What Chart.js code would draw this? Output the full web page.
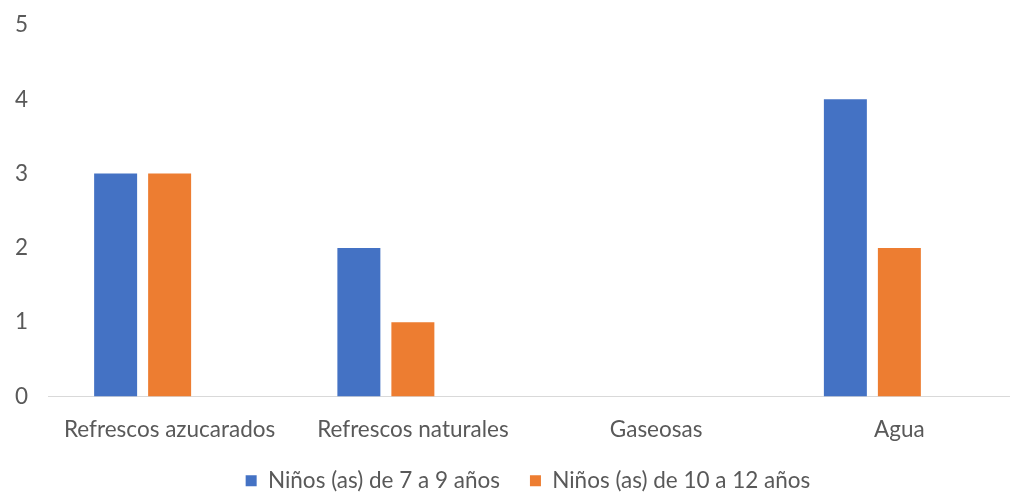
<!DOCTYPE html>
<html>
<head>
<meta charset="utf-8">
<script src="https://cdn.jsdelivr.net/npm/chart.js@4/dist/chart.umd.min.js"></script>
<style>
  html, body { margin: 0; padding: 0; background: #fff; overflow: hidden; }
  #wrap { width: 1056px; height: 493px; }
</style>
</head>
<body>
<div id="wrap"><canvas id="c" width="1056" height="493"></canvas></div>
<script>
// Bebidas preferidas por grupo de edad
const categories = ['Refrescos azucarados', 'Refrescos naturales', 'Gaseosas', 'Agua'];
const ninos7a9 = [3, 2, 0, 4];
const ninos10a12 = [3, 1, 0, 2];
const serieVacia = [null, null, null, null];
const yMin = 0, yMax = 5, yStep = 1;

const textColor = '#595959';
const fontFamily = 'Lato, "Open Sans", sans-serif';
const fontSize = 22.5;

// nudges the bottom legend after layout (top edge raised so the items stay inside the legend box)
const legendOffset = {
  id: 'legendOffset',
  afterLayout(chart, args, opts) {
    const l = chart.legend;
    if (!l) return;
    l.left += opts.dx; l.right += opts.dx;
    l.top += opts.dy;
  }
};

new Chart(document.getElementById('c'), {
  type: 'bar',
  data: {
    labels: categories,
    datasets: [
      { label: 'Niños (as) de 7 a 9 años', data: ninos7a9, backgroundColor: '#4472C4' },
      { label: 'Niños (as) de 10 a 12 años', data: ninos10a12, backgroundColor: '#ED7D31' },
      { label: '', data: serieVacia, backgroundColor: '#A5A5A5' }
    ]
  },
  plugins: [legendOffset],
  options: {
    responsive: false,
    animation: false,
    devicePixelRatio: 1,
    categoryPercentage: 0.666,
    barPercentage: 0.796,
    layout: { padding: { left: 15, right: 35, top: 25, bottom: -9 } },
    plugins: {
      tooltip: { enabled: false },
      legendOffset: { dx: 10, dy: -16 },
      legend: {
        position: 'bottom',
        maxHeight: 46.5,
        labels: {
          color: textColor,
          font: { family: fontFamily, size: fontSize },
          boxWidth: 11,
          boxHeight: 11,
          padding: 30,
          filter: item => item.text !== ''
        }
      }
    },
    scales: {
      x: {
        grid: { display: false },
        border: { display: true, color: '#D9D9D9', width: 1 },
        ticks: { color: textColor, font: { family: fontFamily, size: fontSize }, padding: 12, maxRotation: 0 }
      },
      y: {
        min: yMin,
        max: yMax,
        afterFit: scale => { scale.width = 33; },
        grid: { display: false, drawTicks: false },
        border: { display: false },
        ticks: { stepSize: yStep, crossAlign: 'far', color: textColor, font: { family: fontFamily, size: fontSize }, padding: 8 }
      }
    }
  }
});
</script>
</body>
</html>
